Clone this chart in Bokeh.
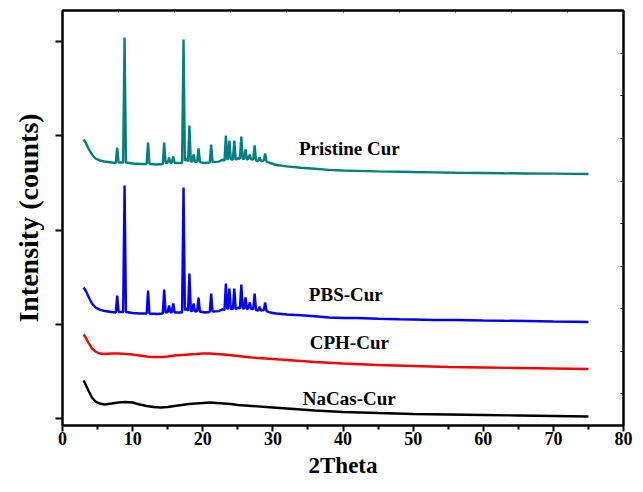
from bokeh.plotting import figure
from bokeh.models import (Range1d, FixedTicker, LinearAxis, CustomJSTickFormatter,
                          Label)
from bokeh.embed import file_html
from bokeh.resources import INLINE

# ---------------- data ----------------
two_theta_ticks = [0, 10, 20, 30, 40, 50, 60, 70, 80]
y_ticks = [0, 1000, 2000, 3000, 4000]

nacas_x = [3.0, 3.3, 3.7, 4.2, 4.7, 5.3, 6.0, 7.0, 8.0, 9.0, 10.0, 11.0, 12.0,
           13.0, 14.0, 15.0, 16.0, 17.0, 18.0, 19.0, 20.0, 21.0, 22.0, 23.0,
           24.0, 25.0, 27.0, 30.0, 33.0, 36.0, 40.0, 45.0, 50.0, 55.0, 60.0,
           65.0, 70.0, 75.0]
nacas_y = [403, 361, 297, 223, 180, 159, 149, 159, 170, 175, 170, 149, 133,
           122, 117, 122, 133, 143, 154, 159, 164, 170, 164, 159,
           154, 143, 133, 117, 101, 85, 69, 58, 48, 42, 37,
           32, 27, 21]

cph_x = [3.0, 3.3, 3.7, 4.2, 4.7, 5.3, 6.0, 7.0, 8.0, 9.0, 10.0, 11.0, 12.0,
         13.0, 14.0, 15.0, 16.0, 17.0, 18.0, 19.0, 20.0, 21.0, 22.0, 23.0,
         25.0, 27.0, 30.0, 33.0, 36.0, 40.0, 45.0, 50.0, 55.0, 60.0, 65.0,
         70.0, 75.0]
cph_y = [891, 859, 806, 743, 711, 690, 684, 690, 690, 684, 679, 668, 658,
         652, 652, 658, 668, 674, 679, 684, 690, 690, 684, 679,
         663, 647, 631, 615, 599, 584, 568, 557, 546, 541, 536,
         530, 525]

pbs_x = [3.0, 3.3, 3.7, 4.2, 4.7, 5.3, 6.0, 7.0, 7.6, 7.8, 8.0, 8.65, 8.85,
         9.05, 10.0, 11.0, 12.0, 12.2, 12.4, 13.5, 14.3, 14.5, 14.7, 15.0,
         15.2, 15.4, 15.6, 15.8, 16.0, 17.05, 17.26, 17.45, 17.7, 17.9, 18.1,
         18.3, 18.5, 18.7, 18.9, 19.2, 19.4, 19.6, 20.3, 21.0, 21.2, 21.4,
         22.3, 22.8, 23.1, 23.3, 23.5, 23.6, 23.8, 24.0, 24.3, 24.5, 24.7,
         25.0, 25.3, 25.5, 25.7, 25.9, 26.1, 26.3, 26.5, 26.7, 26.9, 27.2,
         27.4, 27.6, 27.9, 28.1, 28.3, 28.7, 28.9, 29.1, 29.6, 30.5, 32.0,
         34.0, 36.0, 38.0, 40.0, 42.0, 45.0, 48.0, 50.0, 53.0, 56.0, 60.0,
         63.0, 66.0, 70.0, 73.0, 75.0]
pbs_y = [1390, 1358, 1294, 1220, 1178, 1156, 1141, 1130, 1125, 1305, 1130,
         1130, 2472, 1130, 1120, 1114, 1114, 1358, 1114, 1109, 1114, 1369,
         1125, 1130, 1199, 1125, 1130, 1220, 1125, 1125, 2451, 1150, 1172,
         1140, 1538, 1140, 1140, 1220, 1135, 1140, 1284, 1135, 1125, 1130,
         1326, 1135, 1140, 1160, 1150, 1432, 1160, 1170, 1379, 1165, 1160,
         1379, 1160, 1175, 1170, 1422, 1165, 1170, 1284, 1160, 1170, 1230,
         1165, 1160, 1326, 1150, 1145, 1188, 1145, 1150, 1230, 1140, 1125,
         1114, 1103, 1095, 1085, 1072, 1066, 1066, 1058, 1053, 1050, 1045,
         1045, 1040, 1037, 1035, 1030, 1027, 1024]

pristine_x = pbs_x
pristine_y = [2960, 2928, 2865, 2801, 2759, 2738, 2727, 2716, 2711, 2875,
              2716, 2716, 4042, 2716, 2706, 2700, 2700, 2928, 2700, 2695,
              2700, 2928, 2711, 2716, 2769, 2711, 2716, 2780, 2711, 2711,
              4021, 2736, 2758, 2726, 3109, 2726, 2726, 2801, 2721, 2726,
              2865, 2721, 2711, 2716, 2907, 2721, 2726, 2746, 2736, 3002,
              2746, 2756, 2949, 2751, 2746, 2949, 2746, 2761, 2756, 2992,
              2751, 2756, 2854, 2746, 2756, 2801, 2751, 2746, 2897, 2736,
              2731, 2769, 2731, 2736, 2812, 2726, 2711, 2690, 2675, 2660,
              2650, 2638, 2631, 2628, 2622, 2618, 2615, 2612, 2608, 2605,
              2602, 2600, 2598, 2596, 2594]

series_names = ["NaCas-Cur", "CPH-Cur", "PBS-Cur", "Pristine Cur"]
series_colors = ["#000000", "#FF0000", "#0000FF", "#008080"]
label_x = [40.9, 40.9, 40.4, 40.9]
label_y = [212, 806, 1316, 2865]

# ---------------- figure ----------------
FONT = "Liberation Serif"

p = figure(width=643, height=492, output_backend="svg", toolbar_location=None,
           x_range=Range1d(0, 80), y_range=Range1d(-74, 4329),
           min_border_left=62, min_border_right=20, min_border_top=10,
           min_border_bottom=67)
p.grid.visible = False
p.outline_line_color = "black"
p.outline_line_width = 2
p.background_fill_color = "white"
p.border_fill_color = "white"

xs = [nacas_x, cph_x, pbs_x, pristine_x]
ys = [nacas_y, cph_y, pbs_y, pristine_y]
for x, y, c in zip(xs, ys, series_colors):
    p.line(x, y, line_color=c, line_width=2.4)

for name, lx, ly in zip(series_names, label_x, label_y):
    p.add_layout(Label(x=lx, y=ly, text=name, text_font=FONT,
                       text_font_style="bold", text_font_size="19px",
                       text_align="center", text_baseline="middle",
                       text_color="black"))

blank = CustomJSTickFormatter(code="return ''")

# x axis
xa = p.xaxis[0]
xa.ticker = FixedTicker(ticks=two_theta_ticks,
                        minor_ticks=[5, 15, 25, 35, 45, 55, 65, 75])
xa.axis_label = "2Theta"
xa.axis_label_text_font = FONT
xa.axis_label_text_font_style = "bold"
xa.axis_label_text_font_size = "23px"
xa.axis_label_text_color = "black"
xa.axis_label_standoff = 5
xa.major_label_text_font = FONT
xa.major_label_text_font_style = "bold"
xa.major_label_text_font_size = "18px"
xa.major_label_text_color = "black"
xa.major_label_standoff = 0
xa.major_tick_out = 6
xa.major_tick_in = 0
xa.minor_tick_out = 4
xa.minor_tick_in = 0
xa.axis_line_width = 2
xa.major_tick_line_width = 2
xa.minor_tick_line_width = 2

# y axis
ya = p.yaxis[0]
ya.ticker = FixedTicker(ticks=y_ticks, minor_ticks=[])
ya.formatter = blank
ya.axis_label = "Intensity (counts)"
ya.axis_label_text_font = FONT
ya.axis_label_text_font_style = "bold"
ya.axis_label_text_font_size = "28px"
ya.axis_label_text_color = "black"
ya.axis_label_standoff = 12
ya.major_tick_out = 7
ya.major_tick_in = 0
ya.axis_line_width = 2
ya.major_tick_line_width = 2

# right axis with small inward ticks
ra = LinearAxis(ticker=FixedTicker(ticks=[265, 716, 1167, 1618, 2069, 2520,
                                          2971, 3422, 3873], minor_ticks=[]),
                formatter=blank, major_tick_in=3, major_tick_out=0,
                major_label_text_font_size="0px", major_label_standoff=0,
                axis_line_width=2, major_tick_line_width=1)
p.add_layout(ra, "right")

# top axis with small inward ticks
ta = LinearAxis(ticker=FixedTicker(ticks=[8, 16, 24, 32, 40, 48, 56, 64, 72],
                                   minor_ticks=[]),
                formatter=blank, major_tick_in=2, major_tick_out=0,
                major_label_text_font_size="0px", major_label_standoff=0,
                axis_line_width=2, major_tick_line_width=1)
p.add_layout(ta, "above")

open("out.html", "w").write(file_html(p, INLINE))
